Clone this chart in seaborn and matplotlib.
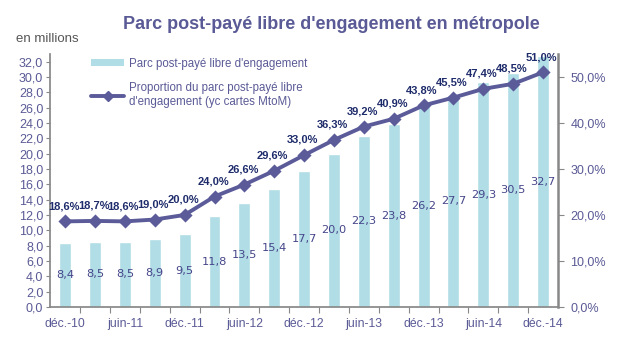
import numpy as np
import pandas as pd
import seaborn as sns
import matplotlib.pyplot as plt
from matplotlib.lines import Line2D
from matplotlib.patches import Patch
from matplotlib.ticker import FuncFormatter, FixedLocator

quarters = ['déc.-10', 'mars-11', 'juin-11', 'sept.-11', 'déc.-11', 'mars-12', 'juin-12', 'sept.-12',
            'déc.-12', 'mars-13', 'juin-13', 'sept.-13', 'déc.-13', 'mars-14', 'juin-14', 'sept.-14', 'déc.-14']
parc = [8.4, 8.5, 8.5, 8.9, 9.5, 11.8, 13.5, 15.4, 17.7, 20.0, 22.3, 23.8, 26.2, 27.7, 29.3, 30.5, 32.7]
proportion = [18.6, 18.7, 18.6, 19.0, 20.0, 24.0, 26.6, 29.6, 33.0, 36.3, 39.2, 40.9, 43.8, 45.5, 47.4, 48.5, 51.0]

BAR = '#b1dde6'
LINE = '#5b5b9a'
TXT = '#5a5a96'
NAVY = '#1f2c6b'

sns.set_theme(style='white')
plt.rcParams['font.family'] = ['Liberation Sans', 'DejaVu Sans']

df = pd.DataFrame({'q': quarters, 'parc': parc, 'pct': proportion})

fig = plt.figure(figsize=(6.2, 3.5), dpi=100)
ax = fig.add_axes([0.081, 0.123, 0.819, 0.723])
sns.barplot(data=df, x='q', y='parc', color=BAR, width=0.4, saturation=1, ax=ax)
ax.set_ylim(0, 33)
ax.set_xlim(-0.5, len(quarters) - 0.5)

ax2 = ax.twinx()
sns.pointplot(data=df, x='q', y='pct', color=LINE, markers='D', markersize=5.5,
              linewidth=2.8, ax=ax2)
ax2.set_ylim(0, 55)
ax2.set_xlim(-0.5, len(quarters) - 0.5)

# bar value labels, centred vertically
for i, v in enumerate(parc):
    ax.text(i, v / 2, f'{v:.1f}'.replace('.', ','), ha='center', va='center',
            fontsize=8.2, color='#45458a', family='DejaVu Sans')
# percent labels above the points
for i, v in enumerate(proportion):
    ax2.text(i - 0.05, v + 2.2, f'{v:.1f}%'.replace('.', ','), ha='center', va='bottom',
             fontsize=8, fontweight='bold', color=NAVY)

# x axis: labels every other quarter, tick marks at boundaries
pos = np.arange(len(quarters))
ax.xaxis.set_major_locator(FixedLocator(pos[::2]))
ax.set_xticklabels([quarters[i] for i in pos[::2]])
ax.xaxis.set_minor_locator(FixedLocator(pos[:-1] + 0.5))
ax.tick_params(axis='x', which='major', length=0, pad=8, labelsize=8.8, labelcolor=TXT)
ax.tick_params(axis='x', which='minor', length=4, width=0.8, color='#888888', direction='out', bottom=True)
ax.set_xlabel('')

ax.set_yticks(np.arange(0, 33, 2))
ax.yaxis.set_major_formatter(FuncFormatter(lambda v, p: f'{v:.1f}'.replace('.', ',')))
ax.tick_params(axis='y', length=3, width=0.8, color='#888888', direction='out', left=True,
               labelsize=9, labelcolor=TXT, pad=2)
ax.set_ylabel('')

ax2.set_yticks(np.arange(0, 51, 10))
ax2.yaxis.set_major_formatter(FuncFormatter(lambda v, p: f'{v:.1f}%'.replace('.', ',')))
ax2.tick_params(axis='y', length=4, width=0.8, color='#888888', direction='out', right=True,
                labelsize=9, labelcolor=TXT, pad=5)
ax2.set_ylabel('')

for a in (ax, ax2):
    a.spines['top'].set_visible(False)
    a.spines['left'].set_color('#888888')
    a.spines['bottom'].set_color('#888888')
    a.spines['right'].set_color('#888888')
ax2.spines['right'].set_linewidth(1.8)
ax.spines['right'].set_visible(False)
ax2.spines['left'].set_visible(False)
ax2.spines['bottom'].set_visible(False)

handles = [Patch(facecolor=BAR, edgecolor='none'),
           Line2D([0], [0], color=LINE, lw=2.8, marker='D', markersize=5.5)]
ax.legend(handles, ['Parc post-payé libre d\'engagement',
                    'Proportion du parc post-payé libre\nd\'engagement (yc cartes MtoM)'],
          loc='upper left', bbox_to_anchor=(0.14, 0.848), bbox_transform=fig.transFigure,
          frameon=False, fontsize=8.3, labelcolor=TXT, handlelength=2.8, handleheight=0.6,
          labelspacing=1.1, borderaxespad=0, handletextpad=0.5)

fig.text(0.535, 0.93, 'Parc post-payé libre d\'engagement en métropole', ha='center', va='center',
         fontsize=13, fontweight='bold', color=TXT)
fig.text(0.026, 0.89, 'en millions', ha='left', va='center', fontsize=9.5, color='#555555')

fig.savefig('out.png', dpi=100)
